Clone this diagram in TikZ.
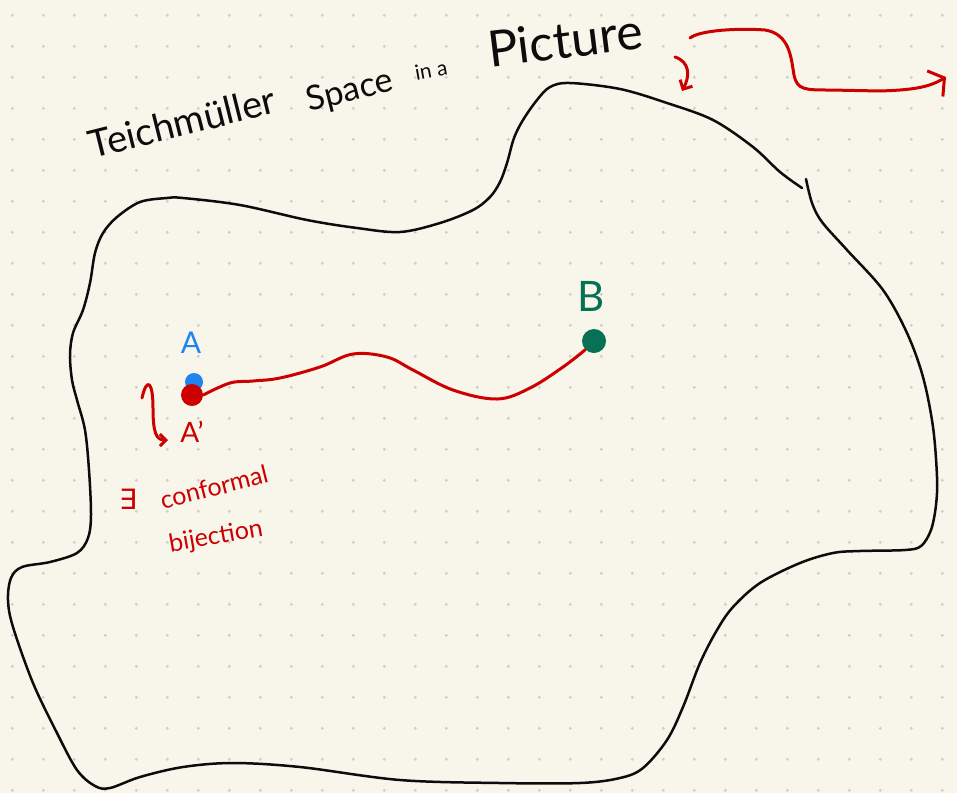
\documentclass[tikz,border=0pt]{standalone}
\usepackage{fontspec}
\setmainfont{Lato}
\newfontfamily\symf{DejaVu Sans}
\usetikzlibrary{arrows.meta}
\definecolor{paper}{RGB}{248,246,234}
\definecolor{griddot}{RGB}{206,205,198}
\definecolor{pen}{RGB}{12,12,12}
\definecolor{inkred}{RGB}{204,0,0}
\definecolor{inkblue}{RGB}{28,134,238}
\definecolor{inkgreen}{RGB}{8,112,84}
\begin{document}
\begin{tikzpicture}[x=1pt,y=-1pt,
  outline/.style={draw=pen, line width=2.5pt, line cap=round, line join=round},
  redink/.style={draw=inkred, line width=3pt, line cap=round, line join=round},
  hand/.style={inner sep=0pt, font=\fontsize{#1}{#1}\selectfont},
  dotpt/.style={circle, inner sep=0pt, minimum size=#1}
]
\fill[paper] (0,0) rectangle (957,793);
\useasboundingbox (0,0) rectangle (957,793);
\foreach \i in {0,...,30}{\foreach \j in {0,...,25}{\fill[griddot] ({12.3+31*\i},{15.3+31*\j}) circle (1.6);}}

% title
\node[hand=38, text=pen, rotate=14] (t1) at (182,122) {Teichmüller};
\node[hand=34, text=pen, rotate=14] (t2) at (350,92) {Space};
\node[hand=21, text=pen, rotate=10] (t3) at (431,70) {in a};
\node[hand=50, text=pen, rotate=7] (t4) at (565,40) {Picture};

% outline of the space
\draw[outline] plot[smooth, tension=0.55] coordinates {
 (806,179) (812,203) (822,222) (847,250) (883,290) (907,333) (923,377) (933,427)
 (937,477) (936,505) (931,530) (921,546) (905,550) (860,551) (833,553) (800,563)
 (760,583) (733,607) (717,630) (700,663) (683,707) (667,740) (643,768) (620,778)
 (580,783) (500,783) (400,780) (300,767) (233,763) (183,767) (140,777) (110,788)
 (95,786) (77,770) (57,733) (33,683) (13,627) (8,600) (11,578) (22,567) (50,562)
 (77,553) (88,538) (91,515) (89,470) (85,430) (77,400) (72,380) (70,355) (73,333)
 (83,310) (90,283) (95,253) (103,233) (117,217) (140,202) (167,198) (183,198)
 (240,205) (307,220) (357,228) (400,232) (440,223) (473,210) (490,197) (500,182)
 (507,163) (514,138) (523,120) (537,100) (550,87) (570,83) (620,89) (667,103)
 (713,120) (753,147) (780,172) (802,188)};

% points
\node[dotpt=18pt, fill=inkblue] (Ablue) at (194,382) {};
\node[dotpt=22pt, fill=inkred] (Ared) at (192,395) {};
\node[dotpt=24pt, fill=inkgreen] (Bdot) at (594,341) {};
\node[hand=30, text=inkblue] (Alab) at (191,343) {A};
\node[hand=28, text=inkred] (Aplab) at (192,432) {A'};
\node[hand=42, text=inkgreen] (Blab) at (591,296) {B};

% path from A' to B
\draw[redink] plot[smooth, tension=0.6] coordinates {
 (Ared.east) (230,383) (253,381) (280,378) (320,367) (353,354) (387,357)
 (413,370) (453,390) (497,399) (530,388) (563,367) (Bdot.south west)};

% small arrow near A
\coordinate (sqs) at (142,398);
\coordinate (sqe) at (168,440);
\draw[redink, -{Straight Barb[length=6pt,width=12pt]}] (sqs) .. controls (147,376) and (153,382) .. (153,408) .. controls (153,432) and (156,440) .. (sqe);

\node[hand=28, text=inkred] (ex) at (128,499) {\symf ∃};
\node[hand=25, text=inkred, rotate=14] (conf) at (214,487) {conformal};
\node[hand=25, text=inkred, rotate=10] (bij) at (216,537) {bijection};

% arrows at top right
\coordinate (c1s) at (675,57);
\coordinate (c1e) at (682,91);
\draw[redink, -{Straight Barb[length=7pt,width=14pt]}] (c1s) .. controls (690,62) and (690,76) .. (c1e);
\coordinate (c2s) at (690,38);
\coordinate (c2e) at (946,77);
\draw[redink, -{Straight Barb[length=11pt,width=30pt]}] (c2s) .. controls (700,30) and (740,28) .. (765,30)
 .. controls (790,34) and (791,58) .. (794,75) .. controls (797,90) and (805,90) .. (830,90)
 -- (880,91) .. controls (910,90) and (928,88) .. (c2e);
\end{tikzpicture}
\end{document}
